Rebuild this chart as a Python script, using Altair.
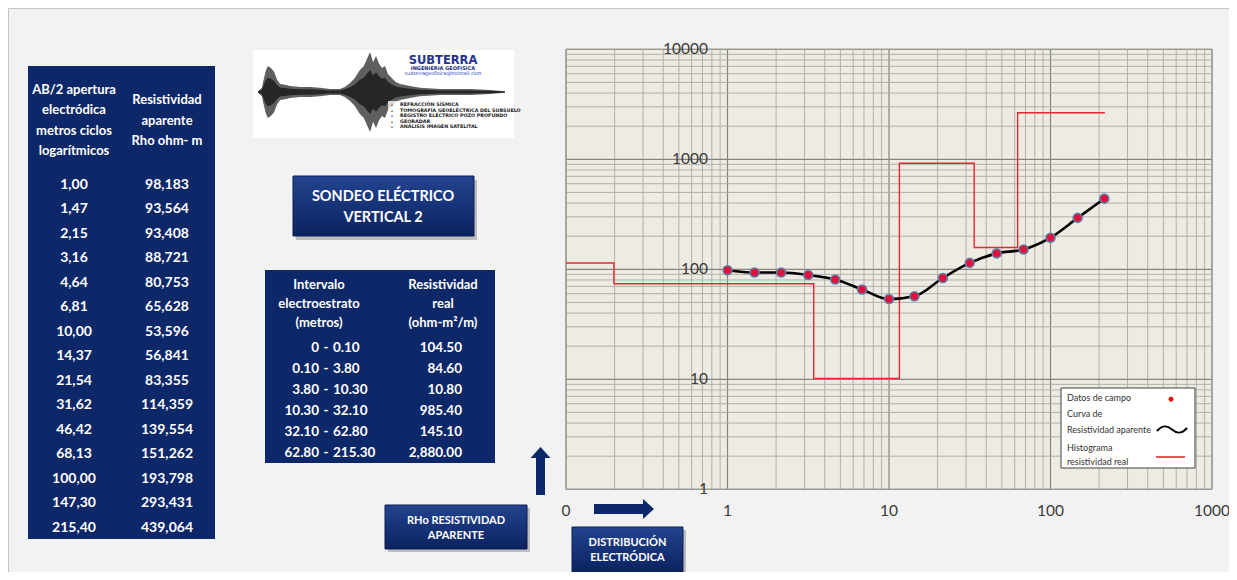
import altair as alt
import pandas as pd

# ---------------- data ----------------
ab_half = [1.00, 1.47, 2.15, 3.16, 4.64, 6.81, 10.00, 14.37, 21.54, 31.62, 46.42, 68.13, 100.00, 147.30, 215.40]
rho_app = [98.183, 93.564, 93.408, 88.721, 80.753, 65.628, 53.596, 56.841, 83.355, 114.359,
           139.554, 151.262, 193.798, 293.431, 439.064]

strata_top = [0, 0.10, 3.80, 10.30, 32.10, 62.80]
strata_bot = [0.10, 3.80, 10.30, 32.10, 62.80, 215.30]
strata_rho = [104.50, 84.60, 10.80, 985.40, 145.10, 2880.00]

# histogram as drawn on the chart
hist_edges = [0.1, 0.198, 3.42, 11.6, 33.7, 62.6, 217]
hist_levels = [114, 74, 10.2, 920, 158, 2650]

x_ticks = [0.1, 1, 10, 100, 1000]
x_tick_labels = ["0", "1", "10", "100", "1000"]
y_ticks = [1, 10, 100, 1000, 10000]
y_tick_labels = ["1", "10", "100", "1000", "10000"]

# logo seismogram envelope (time units 0-100, relative amplitude)
logo_t = [0, 1.6, 2.4, 3.2, 4.0, 5.2, 6.5, 7.7, 8.9, 10.9, 12.9, 16.9, 21, 25, 29, 33, 35, 37, 39, 41,
          42.7, 44, 45.2, 46.4, 47.6, 48.8, 50, 51.2, 52.4, 54, 55.6, 57.3, 61.3, 65.3, 73.4, 85.5, 93.5, 99.6]
logo_amp = [0.02, 0.1, 0.33, 0.52, 0.62, 0.57, 0.48, 0.29, 0.19, 0.17, 0.14, 0.12, 0.12, 0.1, 0.07, 0.07,
            0.12, 0.21, 0.33, 0.52, 0.62, 0.8, 0.95, 0.71, 0.86, 0.67, 0.57, 0.62, 0.43, 0.33, 0.24, 0.19,
            0.14, 0.1, 0.07, 0.07, 0.05, 0.02]

services = ["REFRACCIÓN SÍSMICA", "TOMOGRAFÍA GEOELÉCTRICA DEL SUBSUELO", "REGISTRO ELÉCTRICO POZO PROFUNDO",
            "GEORADAR", "ANÁLISIS IMAGEN SATELITAL"]

# ---------------- helpers ----------------
FONT = "Lato"
NAVY = "#0D2869"


def P(v):
    return v - 8


one = pd.DataFrame({"k": [0]})
base = alt.Chart(one)


def box(x0, x1, y0, y1, **kw):
    return base.mark_rect(**kw).encode(x=alt.value(P(x0)), x2=alt.value(P(x1)),
                                       y=alt.value(P(y0)), y2=alt.value(P(y1)))


def label(text, x, y, **kw):
    # for multi-line text, y is the first line's middle
    kw.setdefault("font", FONT)
    return base.mark_text(text=text, **kw).encode(x=alt.value(P(x)), y=alt.value(P(y)))


def grad(c0, c1):
    return alt.LinearGradient(gradient="linear", x1=0, x2=0, y1=0, y2=1,
                              stops=[alt.GradientStop(color=c0, offset=0),
                                     alt.GradientStop(color=c1, offset=1)])


XS = alt.Scale(type="log", domain=[0.1, 1000], range=[P(566), P(1212)], nice=False)
YS = alt.Scale(type="log", domain=[1, 10000], range=[P(489.3), P(49.3)], nice=False)

layers = []

# outer frame
layers.append(box(8.5, 1260, 8.5, 600, fill="#F2F2F2", stroke="#C4C4C4", strokeWidth=1))

# ---------------- left table ----------------
layers.append(box(28, 215, 66, 539, fill=NAVY))
layers.append(label(["AB/2 apertura", "electródica", "metros ciclos", "logarítmicos"], 74, 89.5,
                    fontSize=13, fontWeight="bold", color="white", lineHeight=20.5, align="center",
                    baseline="middle"))
layers.append(label(["Resistividad", "aparente", "Rho  ohm- m"], 167, 100,
                    fontSize=13, fontWeight="bold", color="white", lineHeight=20.5, align="center",
                    baseline="middle"))
left_df = pd.DataFrame({
    "row": list(range(len(ab_half))),
    "ab_txt": [f"{v:.2f}".replace(".", ",") for v in ab_half],
    "rho_txt": [f"{v:.3f}".replace(".", ",") for v in rho_app],
})
ROWS_L = alt.Scale(domain=[0, len(ab_half) - 1], range=[P(185), P(527.7)], nice=False, zero=False)
for col, cx in (("ab_txt", 74), ("rho_txt", 167)):
    layers.append(alt.Chart(left_df).mark_text(font=FONT, fontSize=14, fontWeight="bold", color="white",
                                               align="center", baseline="middle").encode(
        y=alt.Y("row:Q", scale=ROWS_L, axis=None), x=alt.value(P(cx)), text=f"{col}:N"))

# ---------------- logo ----------------
layers.append(box(253, 514, 50, 138, fill="white"))
logo_df = pd.DataFrame({"t": logo_t, "amp": logo_amp})
logo_df["lo"] = -logo_df["amp"]
LT = alt.Scale(domain=[0, 100], range=[P(258), P(506)], nice=False, zero=False)
LA = alt.Scale(domain=[-1, 1], range=[P(134), P(50)], nice=False, zero=False)
layers.append(alt.Chart(logo_df).mark_area(color="#2A2A2A", opacity=0.75).encode(
    x=alt.X("t:Q", scale=LT, axis=None), y=alt.Y("lo:Q", scale=LA, axis=None), y2="amp:Q"))
layers.append(alt.Chart(logo_df).mark_area(color="#000000", opacity=0.6).encode(
    x=alt.X("t:Q", scale=LT, axis=None),
    y=alt.Y("lo_in:Q", scale=LA, axis=None), y2="hi_in:Q").transform_calculate(
    lo_in="-datum.amp*0.55", hi_in="datum.amp*0.55"))
layers.append(box(395, 512, 54, 78, fill="white", opacity=0.75))
layers.append(label("SUBTERRA", 443, 61, font="DejaVu Sans", fontSize=11.5, fontWeight="bold",
                    color="#24338C", align="center", baseline="middle"))
layers.append(label("INGENIERIA GEOFISICA", 443, 68, font="DejaVu Sans", fontSize=5, fontWeight="bold",
                    color="#1A2A80", align="center", baseline="middle"))
layers.append(label("subterrageofisica@hotmail.com", 443, 73.5, font="DejaVu Sans", fontSize=4.8,
                    color="#2040C0", align="center", baseline="middle"))
layers.append(box(388, 512, 101, 131, fill="white", opacity=0.75))
layers.append(label(["•"] * 5, 392, 105, font="DejaVu Sans", fontSize=5, color="#202020",
                    lineHeight=5.5, align="center", baseline="middle"))
layers.append(label(services, 400, 105, font="DejaVu Sans", fontSize=4.8, fontWeight="bold",
                    color="#202020", lineHeight=5.5, align="left", baseline="middle"))

# ---------------- title box ----------------
layers.append(box(296, 477, 180, 240, fill="#9A9A9A", opacity=0.6))
layers.append(box(293, 474, 176, 236, fill=grad("#23448F", "#0B2260"), stroke="#0A1E55", strokeWidth=1))
layers.append(label(["SONDEO ELÉCTRICO", "VERTICAL  2"], 383, 197, fontSize=14.5, fontWeight="bold",
                    color="white", lineHeight=21, align="center", baseline="middle"))

# ---------------- middle table ----------------
layers.append(box(265, 495, 270, 463, fill=NAVY))
layers.append(label(["Intervalo", "electroestrato", "(metros)"], 319, 285, fontSize=13, fontWeight="bold",
                    color="white", lineHeight=19, align="center", baseline="middle"))
layers.append(label(["Resistividad", "real", "(ohm-m²/m)"], 443, 285, fontSize=13, fontWeight="bold",
                    color="white", lineHeight=19, align="center", baseline="middle"))
mid_df = pd.DataFrame({
    "row": list(range(len(strata_top))),
    "top_txt": ["0" if v == 0 else f"{v:.2f}" for v in strata_top],
    "bot_txt": [f"{v:.2f}" for v in strata_bot],
    "rho_txt": [f"{v:,.2f}" for v in strata_rho],
    "dash": ["-"] * len(strata_top),
})
ROWS_M = alt.Scale(domain=[0, len(strata_top) - 1], range=[P(348.3), P(452.7)], nice=False, zero=False)
for col, cx, al in (("top_txt", 319, "right"), ("dash", 326, "center"), ("bot_txt", 333, "left"),
                    ("rho_txt", 462, "right")):
    layers.append(alt.Chart(mid_df).mark_text(font=FONT, fontSize=13.5, fontWeight="bold", color="white",
                                              align=al, baseline="middle").encode(
        y=alt.Y("row:Q", scale=ROWS_M, axis=None), x=alt.value(P(cx)), text=f"{col}:N"))

# ---------------- arrows & axis boxes ----------------
layers.append(base.mark_rule(color=NAVY, strokeWidth=9).encode(
    x=alt.value(P(540.5)), y=alt.value(P(457)), y2=alt.value(P(495))))
layers.append(base.mark_point(shape="M -1 0.55 L 0 -0.55 L 1 0.55 Z", size=400, filled=True, color=NAVY,
                              opacity=1).encode(x=alt.value(P(540.5)), y=alt.value(P(452.5))))
layers.append(base.mark_rule(color=NAVY, strokeWidth=10).encode(
    x=alt.value(P(594)), x2=alt.value(P(644)), y=alt.value(P(509))))
layers.append(base.mark_point(shape="M -0.55 -1 L 0.55 0 L -0.55 1 Z", size=400, filled=True, color=NAVY,
                              opacity=1).encode(x=alt.value(P(648.5)), y=alt.value(P(509))))

layers.append(box(388, 530, 508, 552, fill="#9A9A9A", opacity=0.6))
layers.append(box(385, 527, 505, 549, fill=grad("#23448F", "#0B2260"), stroke="#0A1E55", strokeWidth=1))
layers.append(label(["RHo  RESISTIVIDAD", "APARENTE"], 456, 521, fontSize=11, fontWeight="bold",
                    color="white", lineHeight=14.5, align="center", baseline="middle"))
layers.append(box(575, 686, 530, 575, fill="#9A9A9A", opacity=0.6))
layers.append(box(572, 683, 527, 572, fill=grad("#23448F", "#0B2260"), stroke="#0A1E55", strokeWidth=1))
layers.append(label(["DISTRIBUCIÓN", "ELECTRÓDICA"], 627.5, 543, fontSize=11, fontWeight="bold",
                    color="white", lineHeight=15, align="center", baseline="middle"))

# ---------------- main plot ----------------
frame_df = pd.DataFrame({"x0": [0.1], "x1": [1000], "y0": [1], "y1": [10000]})
layers.append(alt.Chart(frame_df).mark_rect(fill="#EEEBE2").encode(
    x=alt.X("x0:Q", scale=XS, axis=None), x2="x1:Q",
    y=alt.Y("y0:Q", scale=YS, axis=None), y2="y1:Q"))

minor_x = [m * 10.0 ** e for e in range(-1, 3) for m in range(2, 10)]
minor_y = [m * 10.0 ** e for e in range(0, 4) for m in range(2, 10)]
for vals, col, w in ((minor_x, "#A9A9A6", 0.9), (x_ticks, "#85857F", 1.2)):
    d = pd.DataFrame({"x": vals, "y0": 1, "y1": 10000})
    layers.append(alt.Chart(d).mark_rule(color=col, strokeWidth=w).encode(
        x=alt.X("x:Q", scale=XS, axis=None), y=alt.Y("y0:Q", scale=YS, axis=None), y2="y1:Q"))
for vals, col, w in ((minor_y, "#A9A9A6", 0.9), (y_ticks, "#85857F", 1.2)):
    d = pd.DataFrame({"y": vals, "x0": 0.1, "x1": 1000})
    layers.append(alt.Chart(d).mark_rule(color=col, strokeWidth=w).encode(
        y=alt.Y("y:Q", scale=YS, axis=None), x=alt.X("x0:Q", scale=XS, axis=None), x2="x1:Q"))
layers.append(alt.Chart(frame_df).mark_rect(fill="transparent", stroke="#9C9C98", strokeWidth=1).encode(
    x=alt.X("x0:Q", scale=XS, axis=None), x2="x1:Q",
    y=alt.Y("y0:Q", scale=YS, axis=None), y2="y1:Q"))

# histogram of real resistivity
hx, hy, ho = [], [], []
for i, lev in enumerate(hist_levels):
    hx += [hist_edges[i], hist_edges[i + 1]]
    hy += [lev, lev]
    ho += [2 * i, 2 * i + 1]
hist_df = pd.DataFrame({"x": hx, "rho": hy, "o": ho})
layers.append(alt.Chart(hist_df).mark_line(color="#E8282E", strokeWidth=1.4).encode(
    x=alt.X("x:Q", scale=XS, axis=None), y=alt.Y("rho:Q", scale=YS, axis=None), order="o:Q"))

# apparent resistivity
app_df = pd.DataFrame({"ab": ab_half, "rho": rho_app})
layers.append(alt.Chart(app_df).mark_line(color="black", strokeWidth=2.6, interpolate="monotone").encode(
    x=alt.X("ab:Q", scale=XS, axis=None), y=alt.Y("rho:Q", scale=YS, axis=None)))
layers.append(alt.Chart(app_df).mark_point(filled=True, size=80, fill="#E0123D", stroke="#5E7FA2",
                                           strokeWidth=1.6, opacity=1).encode(
    x=alt.X("ab:Q", scale=XS, axis=None), y=alt.Y("rho:Q", scale=YS, axis=None)))

# tick labels
yl_df = pd.DataFrame({"v": y_ticks, "t": y_tick_labels})
layers.append(alt.Chart(yl_df).mark_text(font=FONT, fontSize=15.5, color="#3A3A3A", align="right",
                                         baseline="middle").encode(
    y=alt.Y("v:Q", scale=YS, axis=None), x=alt.value(P(708)), text="t:N"))
xl_df = pd.DataFrame({"v": x_ticks, "t": x_tick_labels})
layers.append(alt.Chart(xl_df).mark_text(font=FONT, fontSize=15.5, color="#3A3A3A", align="center",
                                         baseline="middle").encode(
    x=alt.X("v:Q", scale=XS, axis=None), y=alt.value(P(511)), text="t:N"))

# legend
layers.append(box(1061, 1195, 388, 468, fill="white", stroke="#404040", strokeWidth=1))
layers.append(label("Datos de campo", 1067, 397.5, fontSize=9, color="#333333", align="left", baseline="middle"))
layers.append(label(["Curva de", "Resistividad aparente"], 1067, 414, fontSize=9, color="#333333",
                    lineHeight=15.5, align="left", baseline="middle"))
layers.append(label(["Histograma", "resistividad real"], 1067, 447.5, fontSize=9, color="#333333",
                    lineHeight=14, align="left", baseline="middle"))
layers.append(base.mark_point(shape="circle", filled=True, size=24, color="#FF0000", opacity=1).encode(
    x=alt.value(P(1171)), y=alt.value(P(399.3))))
layers.append(base.mark_point(shape="M -1 0.1 C -0.65 -0.3 -0.35 -0.3 0 0 C 0.35 0.3 0.65 0.3 1 -0.1",
                              size=900, filled=False, color="black", strokeWidth=2, opacity=1).encode(
    x=alt.value(P(1172)), y=alt.value(P(429.5))))
layers.append(base.mark_rule(color="#E8282E", strokeWidth=1.6).encode(
    x=alt.value(P(1156)), x2=alt.value(P(1185)), y=alt.value(P(457))))

chart = alt.layer(*layers).resolve_scale(x="independent", y="independent").properties(
    width=1221, height=564, background="white", padding=0,
    autosize=alt.AutoSizeParams(type="none"),
).configure_view(strokeWidth=0)

chart.save("out.html", embed_options={"renderer": "svg", "actions": False})
